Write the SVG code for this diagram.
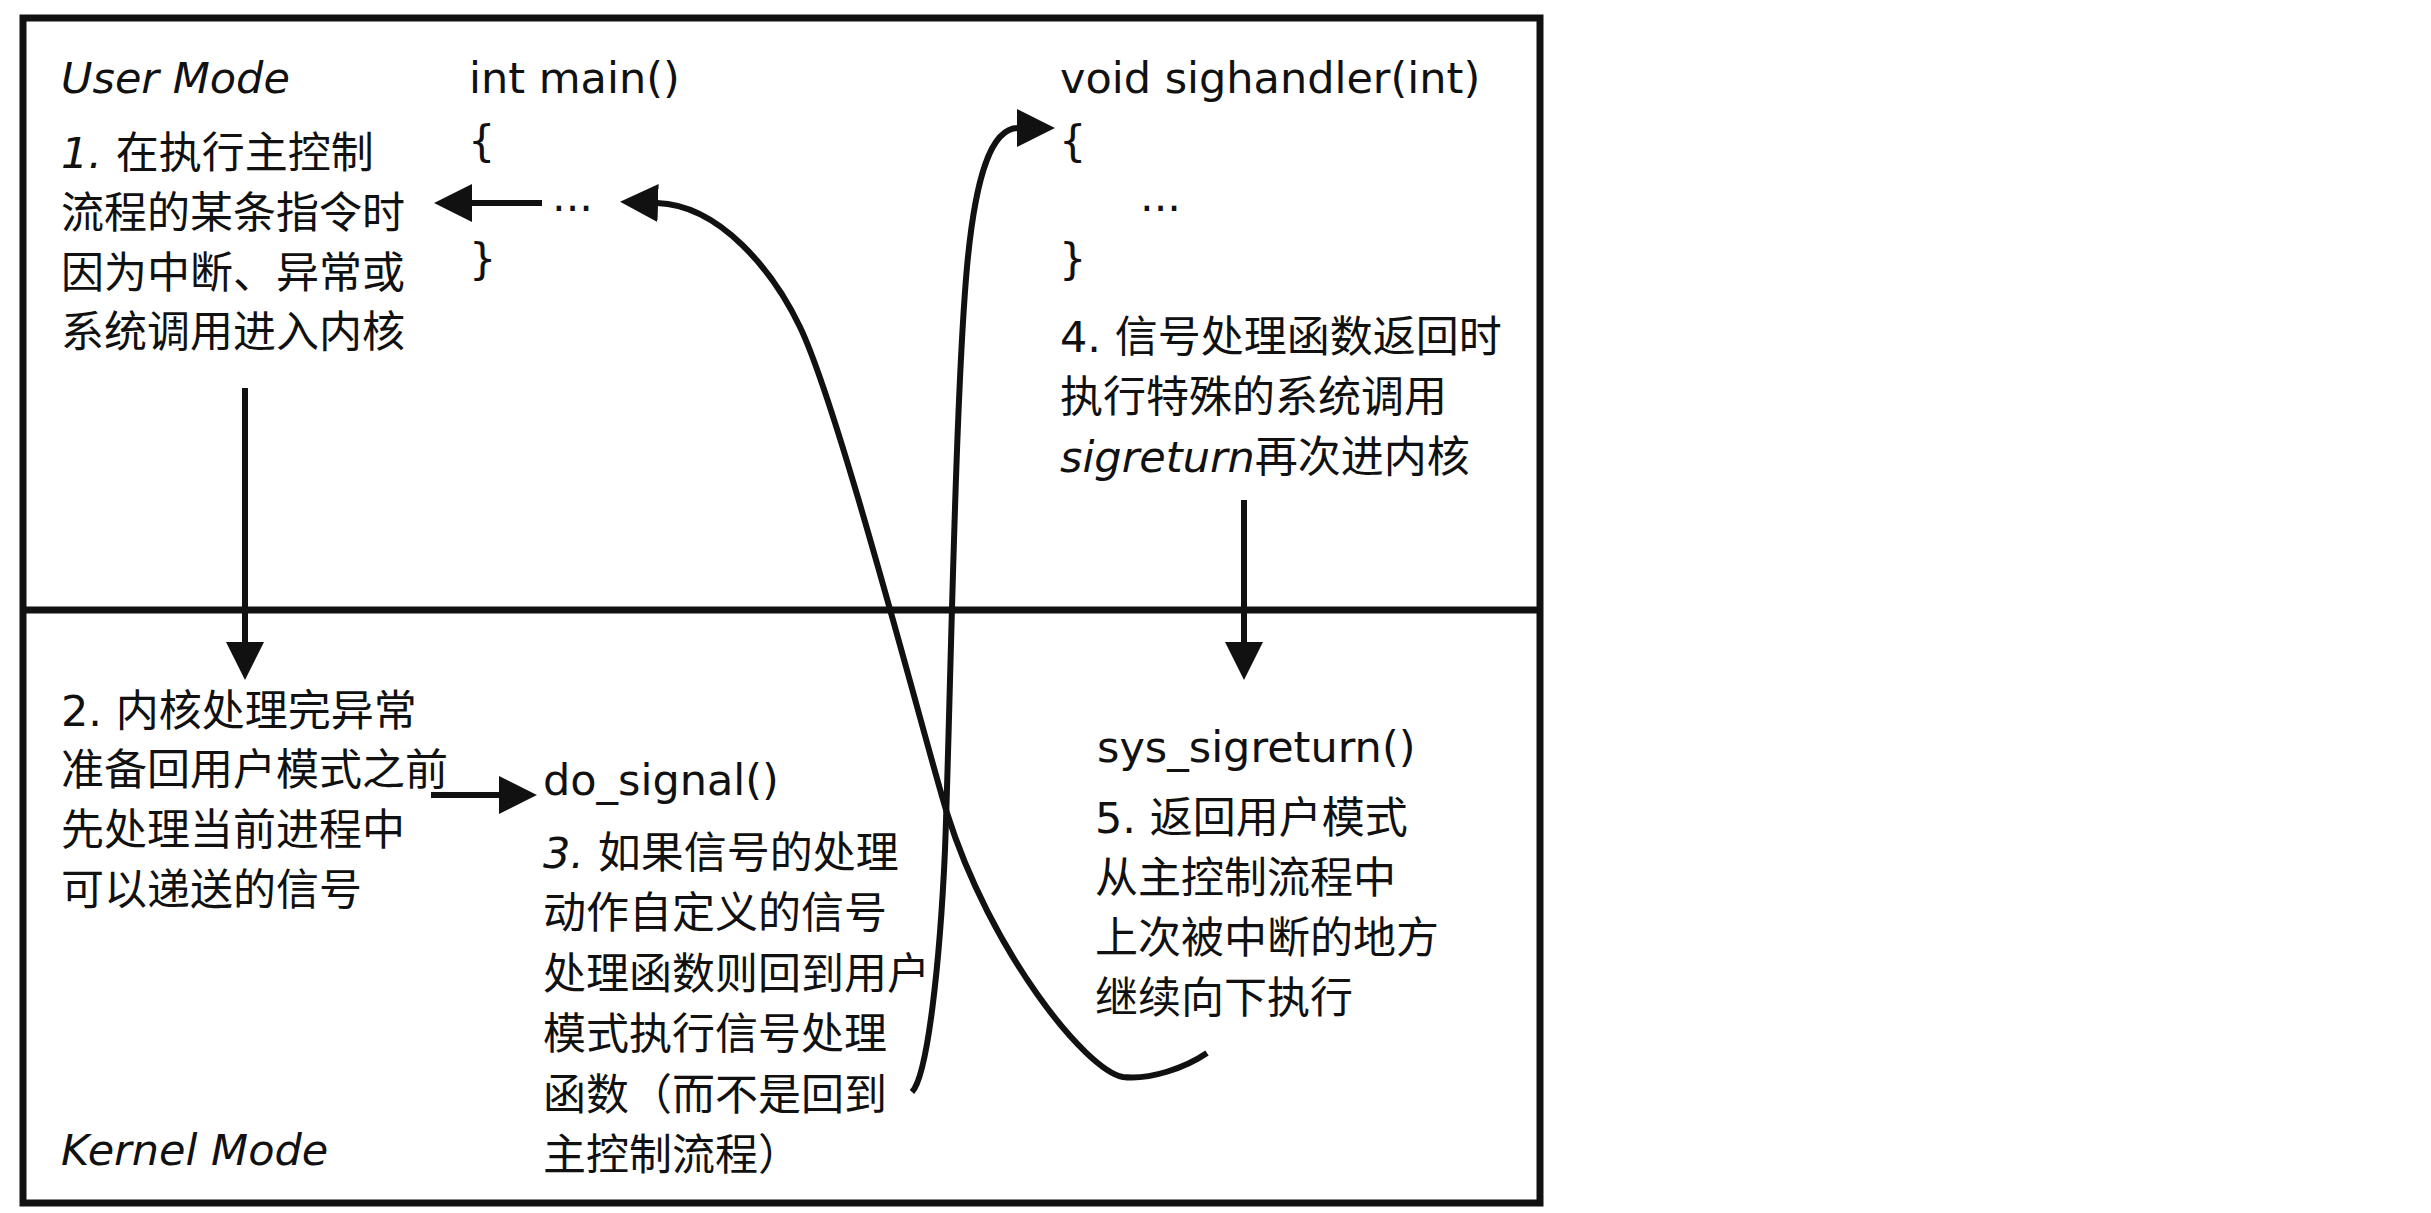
<svg xmlns="http://www.w3.org/2000/svg" width="2431" height="1213" viewBox="0 0 2431 1213">
  <style>
    text { font-family: "DejaVu Sans", "Noto Sans CJK SC", sans-serif; font-size: 43px; fill: #111; }
    .it { font-style: italic; }
    .frame { fill: none; stroke: #111; stroke-width: 7; }
    .conn { fill: none; stroke: #111; stroke-width: 6; }
  </style>
  <defs>
    <marker id="arrow" markerUnits="userSpaceOnUse" markerWidth="38" markerHeight="38" viewBox="0 0 36 36" refX="1" refY="18" orient="auto">
      <path d="M0,0 L36,18 L0,36 z" fill="#111"/>
    </marker>
  </defs>
  <rect width="2431" height="1213" fill="#fff"/>

  <g id="frame">
    <rect class="frame" x="23" y="18" width="1517" height="1185"/>
    <line class="frame" x1="23" y1="610" x2="1540" y2="610"/>
  </g>

  <g id="user-mode-label"><text x="61" y="93" class="it">User Mode</text></g>
  <g id="step1">
    <text x="61" y="168"><tspan class="it">1.</tspan> 在执行主控制</text>
    <text x="61" y="228">流程的某条指令时</text>
    <text x="61" y="288">因为中断、异常或</text>
    <text x="61" y="347">系统调用进入内核</text>
  </g>
  <g id="main-func">
    <text x="469" y="93">int main()</text>
    <text x="468" y="156">{</text>
    <text x="552" y="211">...</text>
    <text x="469" y="274">}</text>
  </g>
  <g id="sighandler-func">
    <text x="1060" y="93">void sighandler(int)</text>
    <text x="1059" y="156">{</text>
    <text x="1140" y="211">...</text>
    <text x="1059" y="274">}</text>
  </g>
  <g id="step4">
    <text x="1060" y="352">4. 信号处理函数返回时</text>
    <text x="1060" y="412">执行特殊的系统调用</text>
    <text x="1060" y="472"><tspan class="it">sigreturn</tspan>再次进内核</text>
  </g>

  <g id="step2">
    <text x="61" y="726">2. 内核处理完异常</text>
    <text x="61" y="785">准备回用户模式之前</text>
    <text x="61" y="845">先处理当前进程中</text>
    <text x="61" y="905">可以递送的信号</text>
  </g>
  <g id="do-signal"><text x="543" y="795">do_signal()</text></g>
  <g id="step3">
    <text x="543" y="868"><tspan class="it">3.</tspan> 如果信号的处理</text>
    <text x="543" y="928">动作自定义的信号</text>
    <text x="543" y="989">处理函数则回到用户</text>
    <text x="543" y="1049">模式执行信号处理</text>
    <text x="543" y="1110">函数（而不是回到</text>
    <text x="543" y="1170">主控制流程）</text>
  </g>
  <g id="sys-sigreturn"><text x="1097" y="762">sys_sigreturn()</text></g>
  <g id="step5">
    <text x="1095" y="833">5. 返回用户模式</text>
    <text x="1095" y="893">从主控制流程中</text>
    <text x="1095" y="953">上次被中断的地方</text>
    <text x="1095" y="1013">继续向下执行</text>
  </g>
  <g id="kernel-mode-label"><text x="61" y="1165" class="it">Kernel Mode</text></g>

  <g id="connectors">
    <line class="conn" x1="542" y1="203" x2="471" y2="203" marker-end="url(#arrow)"/>
    <line class="conn" x1="245" y1="388" x2="245" y2="643" marker-end="url(#arrow)"/>
    <line class="conn" x1="431" y1="795" x2="500" y2="795" marker-end="url(#arrow)"/>
    <line class="conn" x1="1244" y1="500" x2="1244" y2="643" marker-end="url(#arrow)"/>
    <path class="conn" d="M1207,1053 C1185,1068 1150,1080 1123,1077 C1085,1070 990,950 947,813 C930,760 840,410 800,327 C773,271 720,205 657,203" marker-end="url(#arrow)"/>
    <path class="conn" d="M912,1092 C928,1075 940,960 945,850 C950,720 955,400 967,267 C975,180 990,128 1018,128" marker-end="url(#arrow)"/>
  </g>
</svg>
